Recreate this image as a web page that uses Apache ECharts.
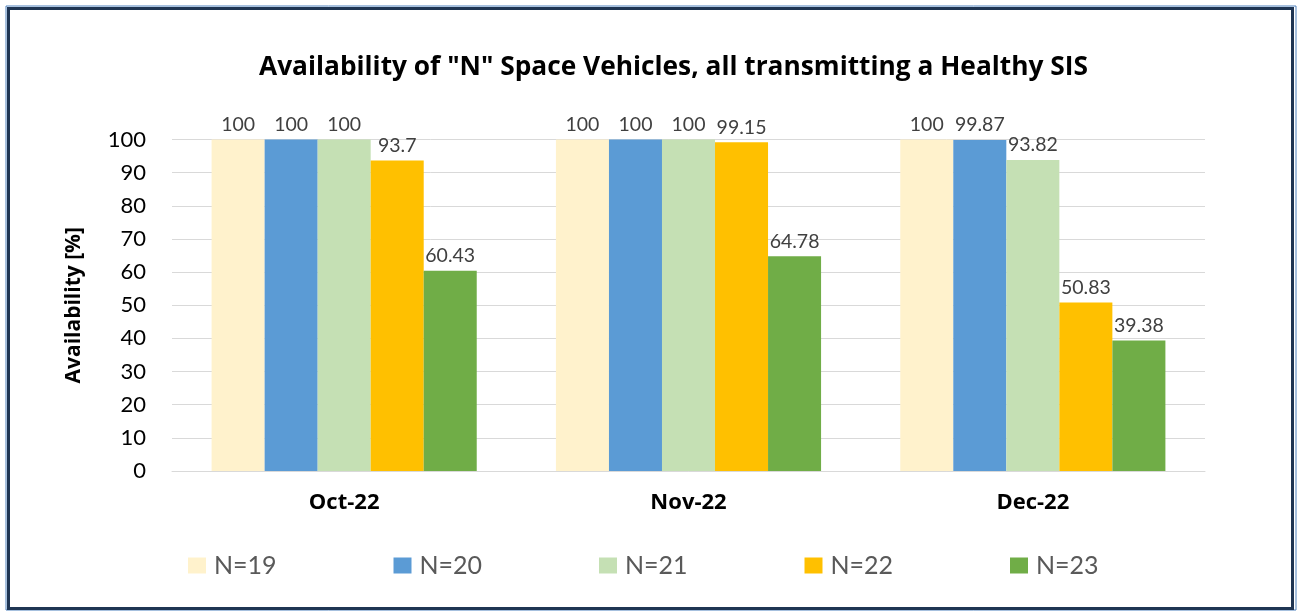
<!DOCTYPE html>
<html>
<head>
<meta charset="utf-8">
<script src="https://cdn.jsdelivr.net/npm/echarts@6/dist/echarts.min.js"></script>
<style>
  html, body { margin: 0; padding: 0; background: #fff; }
  #chart { width: 1298px; height: 612px; }
</style>
</head>
<body>
<div id="chart"></div>
<script>
  // months on the x axis
  const months = ['Oct-22', 'Nov-22', 'Dec-22'];
  // availability per number of space vehicles
  const n19 = [100, 100, 100];
  const n20 = [100, 100, 99.87];
  const n21 = [100, 100, 93.82];
  const n22 = [93.7, 99.15, 50.83];
  const n23 = [60.43, 64.78, 39.38];
  const yTicks = [0, 10, 20, 30, 40, 50, 60, 70, 80, 90, 100];

  const seriesNames = ['N=19', 'N=20', 'N=21', 'N=22', 'N=23'];
  const seriesData = [n19, n20, n21, n22, n23];
  const colors = ['#FFF2CC', '#5B9BD5', '#C5E0B4', '#FFC000', '#70AD47'];

  const font = 'Lato, "Open Sans", sans-serif';
  const boldFont = '"Open Sans", Lato, sans-serif';

  const chart = echarts.init(document.getElementById('chart'));

  // one legend per item so they sit on an even spacing like the original
  const legends = seriesNames.map((name, i) => ({
    data: [name],
    left: 183 + 205.5 * i,
    top: 548,
    itemWidth: 18,
    itemHeight: 16,
    icon: 'rect',
    textStyle: { fontFamily: font, fontSize: 25, color: '#595959', padding: [0, 0, 0, 3] }
  }));

  const option = {
    animation: false,
    color: colors,
    textStyle: { fontFamily: font },
    title: {
      text: 'Availability of "N" Space Vehicles, all transmitting a Healthy SIS',
      left: 254,
      top: 50,
      textStyle: { fontFamily: boldFont, fontSize: 26.3, fontWeight: 'bold', color: '#000' }
    },
    graphic: [
      // frame around the chart
      {
        type: 'rect',
        shape: { x: 6, y: 6, width: 1290, height: 604 },
        style: { fill: 'none', stroke: '#4F81BD', lineWidth: 1 }
      },
      {
        type: 'rect',
        shape: { x: 8.5, y: 8.5, width: 1284, height: 600 },
        style: { fill: 'none', stroke: '#1F3553', lineWidth: 3 }
      }
    ],
    legend: legends,
    grid: {
      left: 172,
      right: 93,
      top: 139.5,
      bottom: 141,
      containLabel: false
    },
    xAxis: {
      type: 'category',
      data: months,
      axisLine: { lineStyle: { color: '#D9D9D9', width: 1 } },
      axisTick: { show: false },
      axisLabel: {
        fontFamily: boldFont,
        fontSize: 22,
        fontWeight: 'bold',
        color: '#000',
        margin: 21
      }
    },
    yAxis: {
      type: 'value',
      min: yTicks[0],
      max: yTicks[yTicks.length - 1],
      interval: 10,
      name: 'Availability [%]',
      nameLocation: 'middle',
      nameGap: 87,
      nameRotate: 90,
      nameTextStyle: { fontFamily: boldFont, fontSize: 21, fontWeight: 'bold', color: '#000' },
      axisLine: { show: false },
      axisTick: { show: false },
      axisLabel: { fontFamily: font, fontSize: 22, color: '#000', margin: 26 },
      splitLine: { lineStyle: { color: '#D9D9D9', width: 1 } }
    },
    series: seriesNames.map((name, i) => ({
      name: name,
      type: 'bar',
      data: seriesData[i],
      barGap: '0%',
      barCategoryGap: '23%',
      itemStyle: { color: colors[i] },
      label: {
        show: true,
        position: 'top',
        distance: 5,
        fontFamily: font,
        fontSize: 19.5,
        color: '#404040'
      }
    }))
  };

  chart.setOption(option);
</script>
</body>
</html>
